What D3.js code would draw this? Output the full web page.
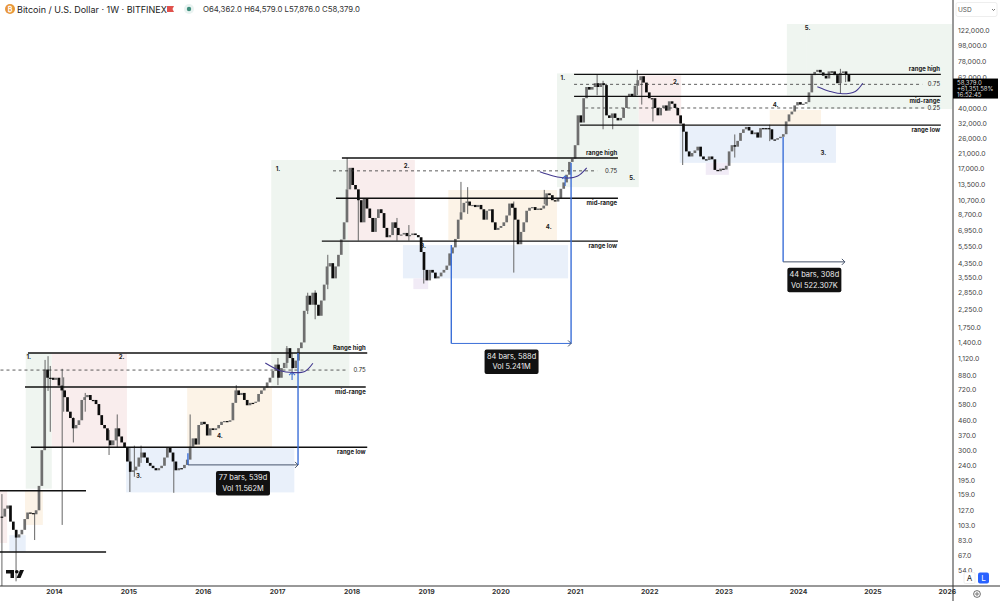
<!DOCTYPE html>
<html>
<head>
<meta charset="utf-8">
<script src="https://cdn.jsdelivr.net/npm/d3@7"></script>
<style>
  html, body { margin: 0; padding: 0; background: #fff; }
  svg { display: block; font-family: Inter, "Liberation Sans", sans-serif; }
  .axis path { stroke: #333; stroke-width: 1; }
  .axis text { fill: #444; font-size: 6.8px; font-family: Inter, sans-serif; }
  .lbl { fill: #222; font-size: 6px; font-weight: 700; }
</style>
</head>
<body>
<div id="plot"></div>
<script>
// biweekly closes (first bar mid april 2013)
var closes2013 = [116, 130, 136, 108, 96, 86, 90, 96, 112, 123, 122, 120, 127, 180, 300, 950, 845, 845];
var closes2014 = [820, 845, 755, 705, 640, 520, 475, 410, 430, 460, 615, 640, 660, 615, 615, 580, 495, 430, 410, 345, 322, 345, 410, 365, 335, 310];
var closes2015 = [255, 220, 225, 237, 270, 290, 270, 250, 240, 232, 225, 232, 240, 270, 310, 290, 255, 225, 232, 232, 243, 262, 315, 355, 325, 430, 450];
var closes2016 = [435, 370, 410, 400, 410, 430, 450, 455, 450, 460, 590, 705, 660, 680, 615, 570, 590, 590, 600, 670, 705, 735, 790, 845, 930, 1020];
var closes2017 = [845, 970, 1045, 1290, 1120, 970, 1080, 1290, 1400, 2200, 2730, 2400, 2850, 2400, 2050, 2550, 3200, 4150, 4350, 3500, 4150, 4900, 6100, 7800, 12500, 17000, 13300];
var closes2018 = [12500, 10700, 7800, 10900, 9500, 8300, 6800, 8300, 9400, 8900, 7200, 6300, 6500, 7800, 7200, 6500, 6550, 6700, 6400, 6500, 6650, 6500, 6300, 5100, 3950, 3400];
var closes2019 = [3950, 3800, 3500, 3600, 3800, 3950, 4200, 5000, 5450, 6150, 8100, 9000, 10300, 10500, 9900, 10000, 9700, 10000, 9400, 8100, 9200, 9400, 7800, 7000, 7200, 7400];
var closes2020 = [7800, 8600, 10200, 9600, 8100, 5700, 6800, 7800, 9200, 9600, 9700, 9300, 9500, 9500, 9900, 11800, 11500, 10700, 10500, 11000, 12600, 13800, 15400, 18500, 19400, 23500];
var closes2021 = [36000, 32500, 46000, 54000, 52000, 54000, 57000, 54000, 57000, 55500, 36000, 34700, 37000, 34700, 33500, 34700, 40000, 47000, 49000, 47000, 55000, 59500, 63000, 57500, 50000, 46000];
var closes2022 = [46000, 40000, 36000, 40000, 41500, 38500, 44000, 42500, 40000, 36000, 32000, 28500, 21500, 20000, 21000, 21800, 23000, 20000, 19200, 19000, 20000, 19200, 16500, 16200, 16800, 16600];
var closes2023 = [17500, 21500, 23500, 23000, 25000, 28000, 29500, 30500, 29000, 27500, 28200, 26200, 30000, 30000, 30000, 29500, 25500, 25400, 26000, 26500, 27500, 33000, 36500, 38000, 41500, 43500];
var closes2024 = [42000, 42500, 43500, 50000, 64000, 67000, 69000, 66500, 63500, 61000, 67500, 67500, 64000, 57000, 66000, 67500, 64362, 58379];

// long wicks that stick out of the bodies
var wickYears = [2013.30, 2013.49, 2013.74, 2013.88, 2013.92, 2013.95, 2014.11, 2014.13, 2014.26, 2014.42, 2014.74, 2014.85, 2015.02, 2015.08, 2015.17, 2015.61, 2015.83, 2016.45, 2017.01, 2017.13, 2017.20, 2017.41, 2017.51, 2017.68, 2017.94, 2018.09, 2018.61, 2018.77, 2018.97, 2019.47, 2019.56, 2020.18, 2020.59, 2021.30, 2021.38, 2021.51, 2021.84, 2021.90, 2022.05, 2022.45, 2023.15, 2023.62, 2024.57, 2024.64];
var wickHighs = [160, 96, 122, 1090, 1150, 1000, 960, 850, 480, 680, 400, 500, 310, 320, 320, 255, 500, 760, 1120, 1330, 1200, 2850, 2950, 4900, 19600, 11500, 8300, 7500, 4000, 13900, 12900, 10500, 12400, 64500, 59000, 36000, 69000, 59500, 45000, 29000, 27400, 31500, 70000, 64579];
var wickLows = [42, 46, 83, 600, 700, 390, 103, 520, 335, 520, 280, 313, 165, 205, 250, 163, 300, 600, 760, 970, 880, 2100, 1950, 3000, 12500, 6000, 6000, 6000, 3250, 8700, 8800, 3800, 10100, 48000, 29500, 29500, 48000, 42000, 33000, 17700, 19700, 24900, 49000, 57876];

var priceTicks = [122000, 98000, 78000, 62000, 40000, 32000, 26000, 21000, 17000, 13500, 10700, 8700, 6950, 5550, 4350, 3550, 2850, 2250, 1750, 1400, 1120, 880, 720, 580, 460, 370, 300, 240, 195, 159, 127, 103, 83, 67, 54];
var yearTicks = [2014, 2015, 2016, 2017, 2018, 2019, 2020, 2021, 2022, 2023, 2024, 2025, 2026];

// shaded zones: year from, year to, price top, price bottom, kind
var greenZones = [[2013.62, 2013.97, 1203, 173], [2016.92, 2017.97, 19000, 741], [2020.76, 2021.86, 65600, 12900], [2023.85, 2024.12, 133000, 47900], [2024.12, 2026.07, 133000, 39400]];
var redZones = [[2013.27, 2013.37, 168, 79.5], [2013.97, 2014.98, 1203, 313], [2017.95, 2018.85, 19000, 6050], [2021.86, 2022.43, 63800, 32000]];
var blueZones = [[2013.40, 2013.62, 89, 70], [2014.97, 2017.23, 309, 164], [2018.69, 2020.91, 5630, 3500], [2022.41, 2024.51, 30900, 18260]];
var orangeZones = [[2013.61, 2013.85, 168, 103], [2015.79, 2016.93, 731, 313], [2019.30, 2020.76, 12380, 6050], [2023.62, 2024.31, 38850, 30900]];
var purpleZones = [[2018.83, 2019.03, 3500, 3000], [2022.76, 2023.07, 18260, 15380]];

// horizontal levels: price, year from, year to
var solidLevels = [[1203, 2013.65, 2018.21], [741, 2013.61, 2018.19], [313, 2013.69, 2018.21], [168, 2013.2, 2014.43], [70, 2013.2, 2014.70],
  [19550, 2017.87, 2021.58], [11010, 2017.79, 2021.58], [5960, 2017.60, 2021.58],
  [64700, 2020.99, 2025.92], [47200, 2020.99, 2025.92], [31300, 2021.07, 2025.92]];
var dashedLevels = [[943, 2013.2, 2017.95], [16280, 2017.75, 2021.30], [56100, 2020.99, 2025.67], [40000, 2021.14, 2025.73]];

// level captions: text, year of right edge, price, px offset
var levelNames = ["Range high", "0.75", "mid-range", "range low", "range high", "0.75", "mid-range", "range low", "range high", "0.75", "mid-range", "0.25", "range low"];
var levelYears = [2018.19, 2018.19, 2018.19, 2018.19, 2021.57, 2021.57, 2021.57, 2021.57, 2025.91, 2025.91, 2025.91, 2025.91, 2025.91];
var levelPrices = [1203, 943, 741, 313, 19550, 16280, 11010, 5960, 64700, 56100, 47200, 40000, 31300];

var stepTexts = ["1.", "2.", "3.", "4.", "1.", "2.", "3.", "4.", "5.", "1.", "2.", "3.", "4.", "5."];
var stepYears = [2013.66, 2014.91, 2015.14, 2016.23, 2017.01, 2018.74, 2018.96, 2020.65, 2021.77, 2020.84, 2022.36, 2024.34, 2023.70, 2024.13];
var stepPrices = [1130, 1130, 206, 365, 16760, 17500, 5550, 7250, 14700, 61000, 57600, 21000, 41800, 126000];

// date range tools: left year, right year, start price, corner price, end price
var rangeTools = [[2015.80, 2017.28, 287, 243, 1203], [2019.34, 2020.95, 5630, 1380, 18260]];
var rangeLabels = [["77 bars, 539d", "Vol 11.562M", 2016.54, 243], ["84 bars, 588d", "Vol 5.241M", 2020.15, 1380], ["44 bars, 308d", "Vol 522.307K", 2024.22, 4430]];
var arrowYears = [2017.20, 2020.87];
var arrowTops = [915, 15130];
var arrowBottoms = [818, 13110];

var cupA = [[2016.84, 1044], [2017.04, 935], [2017.21, 910], [2017.37, 925], [2017.48, 1040]];
var cupB = [[2020.53, 16050], [2020.71, 15130], [2020.90, 14700], [2021.04, 15130], [2021.16, 17000]];
var cupC = [[2024.26, 54200], [2024.43, 50700], [2024.60, 49000], [2024.77, 50700], [2024.87, 57000]];

var closes = [].concat(closes2013, closes2014, closes2015, closes2016, closes2017, closes2018, closes2019, closes2020, closes2021, closes2022, closes2023, closes2024);
var firstBar = 2013.30, barStep = 14 / 365.25;

var w = 1000, h = 601;
var axisX = 953, axisY = 586;

var x = d3.scaleLinear().domain([2014, 2026]).range([54, 946.8]);
var y = d3.scaleLog().domain([122000, 67]).range([30, 555]);

var svg = d3.select("#plot").append("svg").attr("width", w).attr("height", h);
svg.append("clipPath").attr("id", "pane").append("rect").attr("width", axisX).attr("height", axisY);
var pane = svg.append("g").attr("clip-path", "url(#pane)");

function zones(list, color) {
  pane.selectAll(null).data(list).enter().append("rect")
    .attr("x", function(d) { return x(d[0]); })
    .attr("y", function(d) { return y(d[2]); })
    .attr("width", function(d) { return x(d[1]) - x(d[0]); })
    .attr("height", function(d) { return y(d[3]) - y(d[2]); })
    .attr("fill", color);
}
zones(greenZones, "#eff5f0");
zones(redZones, "#f9eded");
zones(blueZones, "#e9f0fa");
zones(orangeZones, "#fcf3e7");
zones(purpleZones, "#f1ebf6");

// wicks then bodies
pane.selectAll(null).data(wickYears).enter().append("line")
  .attr("x1", function(d) { return x(d); })
  .attr("x2", function(d) { return x(d); })
  .attr("y1", function(d, i) { return y(wickHighs[i]); })
  .attr("y2", function(d, i) { return y(wickLows[i]); })
  .attr("stroke", "#666").attr("stroke-width", 1);

pane.selectAll(null).data(closes).enter().append("rect")
  .attr("x", function(d, i) { return x(firstBar + i * barStep) - 1.35; })
  .attr("y", function(d, i) {
    var o = i > 0 ? closes[i - 1] : d;
    return y(Math.max(o, d));
  })
  .attr("width", 2.7)
  .attr("height", function(d, i) {
    var o = i > 0 ? closes[i - 1] : d;
    return Math.max(1.2, Math.abs(y(o) - y(d)));
  })
  .attr("fill", function(d, i) { return i > 0 && d > closes[i - 1] ? "#6f6f6f" : "#0c0c0c"; });

// levels
pane.selectAll(null).data(solidLevels).enter().append("line")
  .attr("x1", function(d) { return x(d[1]); })
  .attr("x2", function(d) { return x(d[2]); })
  .attr("y1", function(d) { return y(d[0]); })
  .attr("y2", function(d) { return y(d[0]); })
  .attr("stroke", "#111").attr("stroke-width", 1.4);
pane.selectAll(null).data(dashedLevels).enter().append("line")
  .attr("x1", function(d) { return x(d[1]); })
  .attr("x2", function(d) { return x(d[2]); })
  .attr("y1", function(d) { return y(d[0]); })
  .attr("y2", function(d) { return y(d[0]); })
  .attr("stroke", "#333").attr("stroke-width", 0.8).attr("stroke-dasharray", "3,3");

// level captions sit above the top line, below the others, beside on dashed ones
pane.selectAll(null).data(levelNames).enter().append("text")
  .attr("class", "lbl")
  .attr("text-anchor", "end")
  .attr("x", function(d, i) { return x(levelYears[i]); })
  .attr("y", function(d, i) {
    var dy = /high/.test(d) ? -3 : /^0/.test(d) ? 2 : 7;
    return y(levelPrices[i]) + dy;
  })
  .style("font-weight", function(d) { return /^0/.test(d) ? 400 : 700; })
  .text(function(d) { return d; });

pane.selectAll(null).data(stepTexts).enter().append("text")
  .attr("class", "lbl")
  .attr("text-anchor", "middle")
  .attr("x", function(d, i) { return x(stepYears[i]); })
  .attr("y", function(d, i) { return y(stepPrices[i]) + 2; })
  .text(function(d) { return d; });

// bars pattern tools
var blue = "#3b6fd8", dark = "#47546b";
function arrowHead(px, py, c) {
  pane.append("path").attr("d", d3.line()([[px - 3, py - 3], [px, py], [px - 3, py + 3]]))
    .attr("fill", "none").attr("stroke", c).attr("stroke-width", 1);
}
function seg(x1, y1, x2, y2, c, sw) {
  pane.append("line").attr("x1", x1).attr("y1", y1).attr("x2", x2).attr("y2", y2)
    .attr("stroke", c).attr("stroke-width", sw);
}
rangeTools.forEach(function(t) {
  seg(x(t[0]), y(t[2]), x(t[0]), y(t[3]), blue, 1.4);
  seg(x(t[0]), y(t[3]), x(t[1]), y(t[3]), t[0] < 2016 ? dark : blue, 1);
  seg(x(t[1]), y(t[3]), x(t[1]), y(t[4]), blue, 1.4);
  arrowHead(x(t[1]), y(t[3]), dark);
});
seg(x(2023.80), y(26400), x(2023.80), y(4430), blue, 1.4);
seg(x(2023.80), y(4430), x(2024.63), y(4430), dark, 1);
arrowHead(x(2024.63), y(4430), dark);

arrowYears.forEach(function(a, i) {
  var px = x(a), top = y(arrowTops[i]), bot = y(arrowBottoms[i]);
  seg(px, top, px, bot, blue, 1.1);
  pane.append("path").attr("d", d3.line()([[px - 3, top + 3], [px, top], [px + 3, top + 3]]))
    .attr("fill", "none").attr("stroke", blue).attr("stroke-width", 1.1);
});

var cupLine = d3.line()
  .x(function(d) { return x(d[0]); })
  .y(function(d) { return y(d[1]); })
  .curve(d3.curveCatmullRom);
[cupA, cupB, cupC].forEach(function(c) {
  pane.append("path").attr("d", cupLine(c)).attr("fill", "none")
    .attr("stroke", "#43398f").attr("stroke-width", 1.1);
});

rangeLabels.forEach(function(l) {
  var g = pane.append("g").attr("transform", "translate(" + x(l[2]) + "," + (y(l[3]) + 6) + ")");
  g.append("rect").attr("x", -27).attr("y", 0).attr("width", 54).attr("height", 24.5).attr("rx", 2).attr("fill", "#111");
  g.append("text").attr("y", 9.5).attr("text-anchor", "middle").attr("fill", "#eee").style("font-size", "7.4px").text(l[0]);
  g.append("text").attr("y", 20).attr("text-anchor", "middle").attr("fill", "#eee").style("font-size", "7.4px").text(l[1]);
});

// tradingview mark
var logo = pane.append("g").attr("fill", "#111");
logo.append("path").attr("d", "M6 570h8v8h-3.5v-4.5H6z");
logo.append("circle").attr("cx", 16.8).attr("cy", 571.8).attr("r", 1.8);
logo.append("path").attr("d", "M20 570h4l-3.5 8h-4z");

// axes
var axR = svg.append("g").attr("class", "axis").attr("transform", "translate(" + axisX + ",0)")
  .call(d3.axisRight(y).tickValues(priceTicks).tickSize(0).tickPadding(5).tickFormat(d3.format(",.1f")));
axR.select(".domain").remove();
var axB = svg.append("g").attr("class", "axis").attr("transform", "translate(0," + axisY + ")")
  .call(d3.axisBottom(x).tickValues(yearTicks).tickSize(0).tickPadding(3).tickFormat(d3.format("d")));
axB.select(".domain").remove();
axB.selectAll("text").style("font-weight", 700).style("fill", "#333");
seg2(axisX, 0, axisX, h);
seg2(0, axisY, w, axisY);
function seg2(x1, y1, x2, y2) {
  svg.append("line").attr("x1", x1).attr("y1", y1).attr("x2", x2).attr("y2", y2).attr("stroke", "#333").attr("stroke-width", 1);
}

// last price tag
var tag = svg.append("g").attr("transform", "translate(" + axisX + "," + (y(58379) - 3) + ")");
tag.append("rect").attr("width", 45).attr("height", 20).attr("fill", "#000");
["58,379.0", "+61,351.58%", "16:52:45"].forEach(function(s, i) {
  tag.append("text").attr("x", 4).attr("y", 6 + i * 6.4).attr("fill", "#ddd").style("font-size", "6px").text(s);
});

// currency box, scale buttons
svg.append("rect").attr("x", 956).attr("y", 2.5).attr("width", 41).attr("height", 14).attr("rx", 2).attr("fill", "#fff").attr("stroke", "#eee");
svg.append("text").attr("x", 958).attr("y", 12).attr("fill", "#555").style("font-size", "6.5px").text("USD");
svg.append("path").attr("d", "M992 9l1.5 1.5L995 9").attr("fill", "none").attr("stroke", "#555").attr("stroke-width", 0.8);
svg.append("rect").attr("x", 964).attr("y", 572.5).attr("width", 11).attr("height", 11).attr("rx", 1.5).attr("fill", "#fff").attr("stroke", "#eee");
svg.append("text").attr("x", 969.5).attr("y", 581).attr("text-anchor", "middle").attr("fill", "#222").style("font-size", "8px").text("A");
svg.append("rect").attr("x", 978).attr("y", 572.5).attr("width", 11).attr("height", 11).attr("rx", 2).attr("fill", "#2962ff");
svg.append("text").attr("x", 983.5).attr("y", 581).attr("text-anchor", "middle").attr("fill", "#fff").style("font-size", "8px").text("L");
svg.append("circle").attr("cx", 977).attr("cy", 594).attr("r", 3.4).attr("fill", "none").attr("stroke", "#333").attr("stroke-width", 0.7);
svg.append("circle").attr("cx", 977).attr("cy", 594).attr("r", 1.2).attr("fill", "none").attr("stroke", "#333").attr("stroke-width", 0.7);

// header
svg.append("circle").attr("cx", 10).attr("cy", 9).attr("r", 5).attr("fill", "#e8973a");
svg.append("text").attr("x", 10).attr("y", 11.5).attr("text-anchor", "middle").attr("fill", "#fff").style("font-size", "7px").style("font-weight", 700).text("\u20bf");
svg.append("text").attr("x", 17).attr("y", 12.5).attr("fill", "#222").style("font-size", "9px").text("Bitcoin / U.S. Dollar \u00b7 1W \u00b7 BITFINEX");
svg.append("path").attr("d", "M167 6h7l-1.5 3 1.5 3h-7z").attr("fill", "#e0524d");
svg.append("circle").attr("cx", 189).attr("cy", 9).attr("r", 5).attr("fill", "#e9f3f1");
svg.append("circle").attr("cx", 189).attr("cy", 9).attr("r", 2.2).attr("fill", "#3f8f7d");
svg.append("text").attr("x", 203).attr("y", 12).attr("fill", "#333").style("font-size", "7.8px")
  .text("O64,362.0  H64,579.0  L57,876.0  C58,379.0");
</script>
</body>
</html>
